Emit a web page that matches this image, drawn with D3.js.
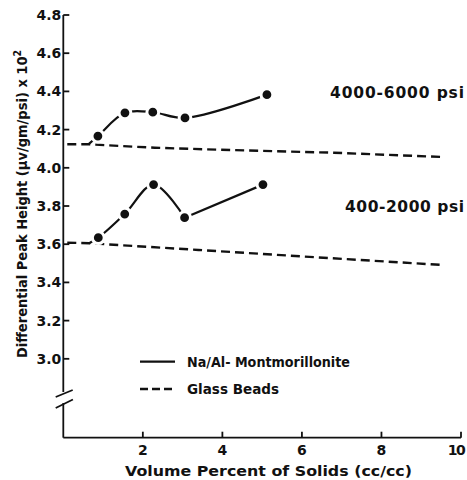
<!DOCTYPE html>
<html>
<head>
<meta charset="utf-8">
<script src="https://cdn.jsdelivr.net/npm/d3@7"></script>
<style>
  body { margin: 0; background: #fff; }
  svg { display: block; }
  text { font-family: "DejaVu Sans", "Liberation Sans", sans-serif; fill: #111; }
</style>
</head>
<body>
<svg id="chart" width="467" height="480"></svg>
<script>
// values
var xTicks = [2, 4, 6, 8, 10];
var yTicks = [3.0, 3.2, 3.4, 3.6, 3.8, 4.0, 4.2, 4.4, 4.6, 4.8];

// Na/Al-Montmorillonite, 4000-6000 psi (first point is where the curve leaves the glass line)
var montHighX = [0.63, 0.87, 1.55, 2.25, 3.06, 5.12];
var montHighY = [4.123, 4.166, 4.288, 4.291, 4.261, 4.383];
// Na/Al-Montmorillonite, 400-2000 psi
var montLowX = [0.65, 0.88, 1.545, 2.27, 3.05, 5.02];
var montLowY = [3.605, 3.634, 3.758, 3.912, 3.739, 3.912];

// Glass beads
var glassHighX = [0.1, 0.63, 2.3, 4.2, 6.8, 9.5];
var glassHighY = [4.123, 4.123, 4.105, 4.093, 4.079, 4.057];
var glassLowX = [0.1, 0.65, 3.4, 5.7, 9.55];
var glassLowY = [3.608, 3.605, 3.57, 3.54, 3.491];

var pressureLabels = ["4000-6000 psi", "400-2000 psi"];
var pressureLabelY = [4.37, 3.77];
var legendLabels = ["Na/Al- Montmorillonite", "Glass Beads"];

var svg = d3.select("#chart");

var xScale = d3.scaleLinear().domain([0, 10]).range([63.3, 461]);
var yScale = d3.scaleLinear().domain([2.587, 4.8]).range([437.7, 15]);

var zip = function (xs, ys) {
	return xs.map(function (x, i) { return [x, ys[i]]; });
};

// ---- axes ----
var axisG = svg.append("g").attr("stroke", "#111").attr("stroke-width", 1.8).attr("fill", "none");
var x0 = xScale(0), yBottom = yScale(2.587);

axisG.append("line").attr("x1", x0).attr("x2", x0).attr("y1", yScale(4.8)).attr("y2", 392);
axisG.append("line").attr("x1", x0).attr("x2", x0).attr("y1", 403).attr("y2", yBottom);
axisG.append("line").attr("x1", x0).attr("x2", xScale(10)).attr("y1", yBottom).attr("y2", yBottom);
// axis break marks
axisG.append("line").attr("x1", x0 - 7.6).attr("y1", 397).attr("x2", x0 + 9.4).attr("y2", 390);
axisG.append("line").attr("x1", x0 - 7.6).attr("y1", 408).attr("x2", x0 + 9.6).attr("y2", 399.5);

axisG.selectAll(".ytick")
		.data(yTicks)
		.enter()
	  .append("line")
		.attr("x1", x0).attr("x2", x0 + 6)
		.attr("y1", function (d) { return yScale(d); })
		.attr("y2", function (d) { return yScale(d); });

axisG.selectAll(".xtick")
		.data(xTicks)
		.enter()
	  .append("line")
		.attr("x1", function (d) { return xScale(d); })
		.attr("x2", function (d) { return xScale(d); })
		.attr("y1", yBottom).attr("y2", yBottom - 6);

svg.selectAll(".ylab")
		.data(yTicks)
		.enter()
	  .append("text")
		.attr("x", x0 - 2)
		.attr("y", function (d) { return yScale(d) + 5; })
		.attr("text-anchor", "end")
		.attr("font-size", 14)
		.attr("font-weight", "bold")
		.text(function (d) { return d.toFixed(1); });

svg.selectAll(".xlab")
		.data(xTicks)
		.enter()
	  .append("text")
		.attr("x", function (d) { return Math.min(xScale(d), 456); })
		.attr("y", yBottom + 17.5)
		.attr("text-anchor", "middle")
		.attr("font-size", 14)
		.attr("font-weight", "bold")
		.attr("letter-spacing", function (d) { return d === 10 ? -1.5 : 0; })
		.text(function (d) { return d; });

svg.append("text")
		.attr("x", 125).attr("y", 476)
		.attr("font-size", 14)
		.attr("font-weight", "bold")
		.attr("textLength", 287).attr("lengthAdjust", "spacingAndGlyphs")
		.text("Volume Percent of Solids (cc/cc)");

var yTitle = svg.append("text")
		.attr("transform", "translate(27,358) rotate(-90)")
		.attr("font-size", 14)
		.attr("font-weight", "bold")
		.attr("textLength", 308).attr("lengthAdjust", "spacingAndGlyphs");
yTitle.append("tspan").text("Differential Peak Height (\u03bcv/gm/psi) x 10");
yTitle.append("tspan").attr("dy", -6).attr("font-size", 10).text("2");

// ---- glass bead lines ----
var straight = d3.line()
		.x(function (d) { return xScale(d[0]); })
		.y(function (d) { return yScale(d[1]); });

svg.selectAll(".glass")
		.data([zip(glassHighX, glassHighY), zip(glassLowX, glassLowY)])
		.enter()
	  .append("path")
		.attr("d", straight)
		.attr("fill", "none")
		.attr("stroke", "#111")
		.attr("stroke-width", 2.4)
		.attr("stroke-dasharray", "9,5");

// ---- montmorillonite curves ----
var smooth = d3.line()
		.curve(d3.curveCatmullRom.alpha(0.5))
		.x(function (d) { return xScale(d[0]); })
		.y(function (d) { return yScale(d[1]); });

var high = zip(montHighX, montHighY);
var low = zip(montLowX, montLowY);
// the low-pressure curve has a cusp at its 3.05 point
var curves = [high, low.slice(0, 5), low.slice(4)];

svg.selectAll(".mont")
		.data(curves)
		.enter()
	  .append("path")
		.attr("d", smooth)
		.attr("fill", "none")
		.attr("stroke", "#111")
		.attr("stroke-width", 2.2);

svg.selectAll(".dot")
		.data(high.slice(1).concat(low.slice(1)))
		.enter()
	  .append("circle")
		.attr("cx", function (d) { return xScale(d[0]); })
		.attr("cy", function (d) { return yScale(d[1]); })
		.attr("r", 5.9)
		.attr("fill", "#111")
		.attr("stroke", "#fff")
		.attr("stroke-width", 3);

// ---- labels ----
var pressureWidth = [134, 119];
svg.selectAll(".plab")
		.data(pressureLabels)
		.enter()
	  .append("text")
		.attr("x", function (d, i) { return 464 - pressureWidth[i]; })
		.attr("y", function (d, i) { return yScale(pressureLabelY[i]) + 0.5; })
		.attr("font-size", 15.5)
		.attr("font-weight", "bold")
		.attr("textLength", function (d, i) { return pressureWidth[i]; })
		.attr("lengthAdjust", "spacing")
		.text(function (d) { return d; });

// ---- legend ----
var legendWidth = [163, 92];
var legend = svg.selectAll(".legend")
		.data(legendLabels)
		.enter()
	  .append("g")
		.attr("transform", function (d, i) { return "translate(140," + (361.7 + i * 27.3) + ")"; });

legend.append("line")
		.attr("x1", 0).attr("x2", 35)
		.attr("stroke", "#111")
		.attr("stroke-width", function (d, i) { return i === 0 ? 2.2 : 2.4; })
		.attr("stroke-dasharray", function (d, i) { return i === 0 ? null : "8,4"; });

legend.append("text")
		.attr("x", 47)
		.attr("y", 5)
		.attr("font-size", 14)
		.attr("font-weight", "bold")
		.attr("textLength", function (d, i) { return legendWidth[i]; })
		.attr("lengthAdjust", "spacingAndGlyphs")
		.text(function (d) { return d; });
</script>
</body>
</html>
